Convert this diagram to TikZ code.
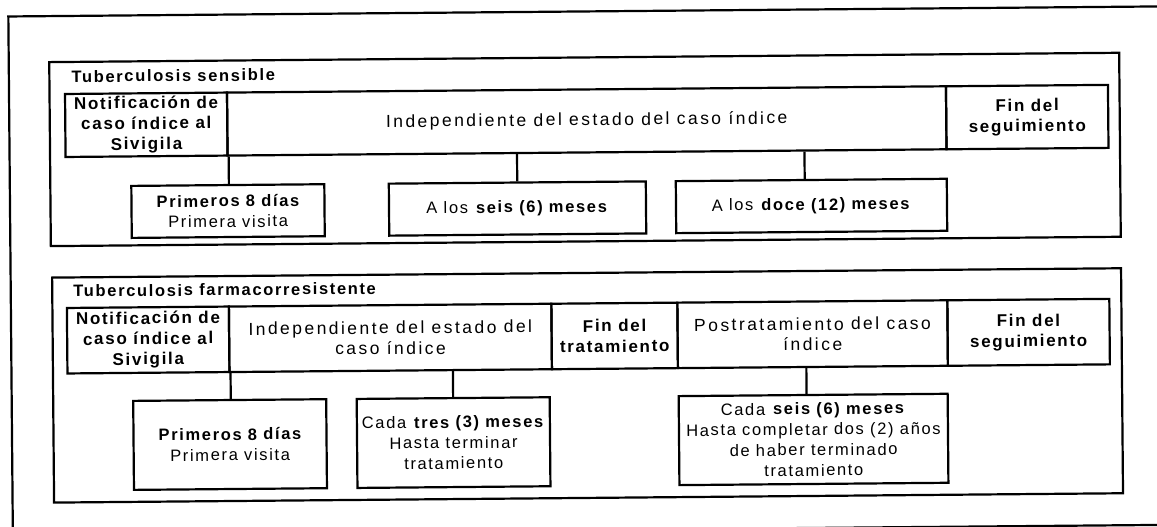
\documentclass[tikz,border=0pt]{standalone}
\usepackage{fontspec}
\setmainfont{Liberation Sans}[LetterSpace=10]
\newfontfamily\widefont{Liberation Sans}[LetterSpace=14]
\newcommand\tbtxt{\fontsize{16.5}{20.5}\selectfont}
\newcommand\toptxt{\fontsize{17}{20.5}\selectfont}
\newcommand\widetxt{\widefont\fontsize{17.5}{20.5}\selectfont}
\begin{document}
\begin{tikzpicture}[x=1pt,y=-1pt,
  cell/.style={draw, line width=2.2pt, inner sep=0pt, align=center, font=\tbtxt},
  topcell/.style={cell, font=\toptxt\bfseries},
  widecell/.style={cell, font=\widetxt},
  frame/.style={draw, line width=2.2pt},
  link/.style={draw, line width=2.2pt},
  ttl/.style={anchor=base west, inner sep=0pt, font=\tbtxt\bfseries}]
\useasboundingbox (0,0) rectangle (1157,527);
\clip (0,0) rectangle (1157,527);
\begin{scope}[rotate around={0.5:(578.5,263.5)}, transform shape]
% outer frame
\draw[frame] (10.5,11.5) rectangle (1185,530);
% ---------- Tuberculosis sensible ----------
\draw[frame] (51,57.5) rectangle (1121,241.5);
\node[ttl] (sT) at (73,78) {Tuberculosis sensible};
\node[topcell, minimum width=162pt, minimum height=63pt] (sN) at (147.5,121)
  {Notificación de\\caso índice al\\Sivigila};
\node[widecell, minimum width=719pt, minimum height=63pt] (sI) at (588,121)
  {Independiente del estado del caso índice};
\node[topcell, minimum width=162pt, minimum height=63pt] (sF) at (1028.5,121)
  {Fin del\\seguimiento};
\node[cell, minimum width=193pt, minimum height=52pt] (sP) at (228.5,208)
  {\bfseries Primeros 8 días\\Primera visita};
\node[cell, minimum width=257pt, minimum height=52pt] (sS) at (518,208)
  {A los \textbf{seis (6) meses}};
\node[cell, minimum width=271pt, minimum height=52pt] (sD) at (812,208)
  {A los \textbf{doce (12) meses}};
\draw[link] (sN.south east) -- (sN.south east |- sP.north);
\draw[link] (sS.north) -- (sS.north |- sI.south);
\draw[link] ([xshift=-6.5pt]sD.north) -- ([xshift=-6.5pt]sD.north |- sI.south);
% ---------- Tuberculosis farmacorresistente ----------
\draw[frame] (52,273) rectangle (1121,498);
\node[ttl] (fTt) at (73,292.5) {Tuberculosis farmacorresistente};
\node[topcell, minimum width=162pt, minimum height=65.5pt] (fN) at (147.5,336.25)
  {Notificación de\\caso índice al\\Sivigila};
\node[widecell, minimum width=322.5pt, minimum height=65.5pt] (fI) at (389.75,336.25)
  {Independiente del estado del\\caso índice};
\node[topcell, minimum width=126pt, minimum height=65.5pt] (fT) at (614,336.25)
  {Fin del\\tratamiento};
\node[widecell, minimum width=270pt, minimum height=65.5pt] (fP) at (812,336.25)
  {Postratamiento del caso\\índice};
\node[topcell, minimum width=162pt, minimum height=65.5pt] (fF) at (1028,336.25)
  {Fin del\\seguimiento};
\node[cell, minimum width=193pt, minimum height=89pt] (fP1) at (228.5,441.5)
  {\bfseries Primeros 8 días\\Primera visita};
\node[cell, minimum width=193pt, minimum height=89pt] (fC3) at (452,441.5)
  {Cada \textbf{tres (3) meses}\\Hasta terminar\\tratamiento};
\node[cell, minimum width=269pt, minimum height=89pt] (fC6) at (812,441.5)
  {Cada \textbf{seis (6) meses}\\Hasta completar dos (2) años\\de haber terminado\\tratamiento};
\draw[link] (fN.south east) -- (fN.south east |- fP1.north);
\draw[link] (fC3.north) -- (fC3.north |- fI.south);
\draw[link] ([xshift=-6.5pt]fC6.north) -- ([xshift=-6.5pt]fC6.north |- fP.south);
\end{scope}
\end{tikzpicture}
\end{document}
